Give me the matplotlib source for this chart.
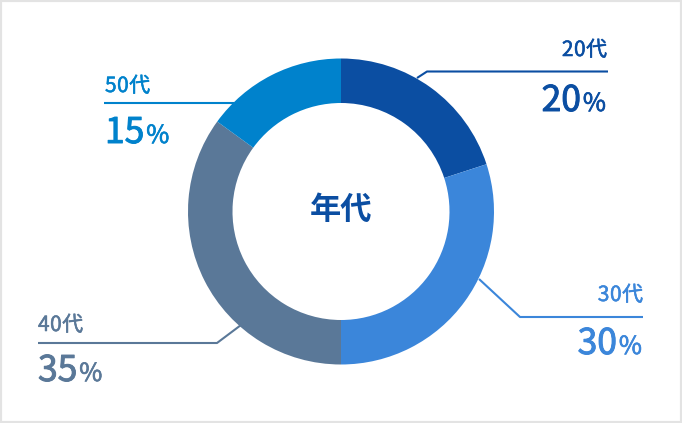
import matplotlib
matplotlib.use("Agg")
from matplotlib import pyplot as plt
from matplotlib.patches import Rectangle
import matplotlib.patheffects as pe

plt.rcParams['font.family'] = ['Noto Sans CJK JP', 'DejaVu Sans']

# data
labels = ['20代', '30代', '40代', '50代']
values = [20, 30, 35, 15]
colors = ['#0b4ea2', '#3b86da', '#5a7898', '#0082cc']
center_label = '年代'

W, H = 682, 423


def py(y):
    # pixel row (from top) -> data y
    return H - y


fig = plt.figure(figsize=(W / 100, H / 100), dpi=100)
ax = fig.add_axes([0, 0, 1, 1])

ax.pie(values, colors=colors, startangle=90, counterclock=False,
       radius=153, center=(341, py(211.5)),
       wedgeprops=dict(width=44.5, linewidth=0))
ax.set_xlim(0, W)
ax.set_ylim(0, H)
ax.axis('off')

ax.text(341, py(210), center_label, ha='center', va='center',
        fontsize=22.5, fontweight='bold', color=colors[0])

# leader lines (pixel coords) and label anchors
leaders = [
    [(417, 78), (427, 71.5), (608, 71.5)],
    [(479, 279), (520, 317), (643, 317)],
    [(245, 322), (217, 343), (38, 343)],
    [(234, 103), (104, 103)],
]
# x anchor, side, label baseline, percent baseline
anchors = [
    (607, 'right', 56, 111),
    (643, 'right', 301, 354),
    (38, 'left', 331, 381),
    (105, 'left', 92, 143),
]

for pts, c in zip(leaders, colors):
    xs = [p[0] for p in pts]
    ys = [py(p[1]) for p in pts]
    ax.plot(xs, ys, color=c, lw=1.5, solid_capstyle='butt', zorder=1)

fig.canvas.draw()
r = fig.canvas.get_renderer()


def txt(x, y, s, ha, size, color, thick=0.5):
    return ax.text(x, y, s, ha=ha, va='baseline', fontsize=size, color=color,
                   path_effects=[pe.withStroke(linewidth=thick, foreground=color)])


def spaced(x, y, s, side, size, color, track):
    # draw a string char by char with a little extra spacing (px)
    chars = s if side == 'left' else s[::-1]
    for ch in chars:
        t = txt(x, y, ch, side, size, color, 0.4)
        w = t.get_window_extent(r).width + track
        x = x + w if side == 'left' else x - w


for lab, v, c, (x, side, yl, yp) in zip(labels, values, colors, anchors):
    spaced(x, py(yl), lab, side, 15, c, 0.6)
    if side == 'right':
        t = txt(x - 1, py(yp), '%', 'right', 18, c)
        w = t.get_window_extent(r).width
        txt(x - 1 - w - 2, py(yp), str(v), 'right', 25.5, c, 0.7)
    else:
        t = txt(x, py(yp), str(v), 'left', 25.5, c, 0.7)
        w = t.get_window_extent(r).width
        txt(x + w + 2, py(yp), '%', 'left', 18, c)

fig.patches.append(Rectangle((0, 0), 1, 1, transform=fig.transFigure,
                             fill=False, ec='#e3e3e3', lw=3))

fig.savefig('out.png', dpi=100, facecolor='white')
